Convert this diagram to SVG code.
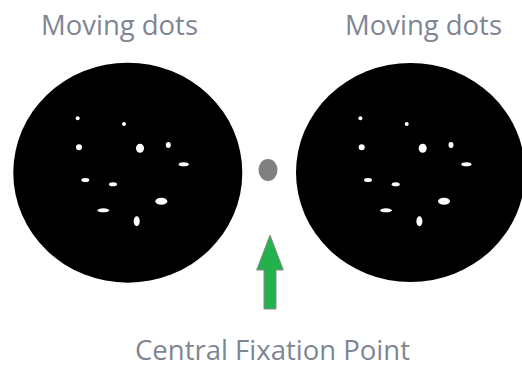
<svg xmlns="http://www.w3.org/2000/svg" xmlns:xlink="http://www.w3.org/1999/xlink" width="522" height="367" viewBox="0 0 522 367">
  <style>
    .label { font-family: "Open Sans", "Noto Sans", "Liberation Sans", sans-serif; font-size: 28px; fill: #7e8692; }
    .disk { fill: #000000; }
    .dot { fill: #ffffff; }
  </style>
  <defs>
    <g id="dots">
      <ellipse class="dot" cx="77.7" cy="118.3" rx="2" ry="2"/>
      <ellipse class="dot" cx="124" cy="124" rx="2" ry="2"/>
      <ellipse class="dot" cx="79" cy="147.3" rx="3" ry="3"/>
      <ellipse class="dot" cx="140" cy="148.3" rx="4" ry="4.5"/>
      <ellipse class="dot" cx="168.3" cy="145" rx="2.5" ry="3"/>
      <ellipse class="dot" cx="183.7" cy="164.3" rx="5" ry="2"/>
      <ellipse class="dot" cx="85.3" cy="180" rx="4" ry="2"/>
      <ellipse class="dot" cx="113" cy="184.3" rx="4" ry="2"/>
      <ellipse class="dot" cx="161.3" cy="201.3" rx="6" ry="3.5"/>
      <ellipse class="dot" cx="103.3" cy="210.3" rx="6" ry="2"/>
      <ellipse class="dot" cx="136.7" cy="221.3" rx="3" ry="5"/>
    </g>
  </defs>

  <g id="label-left">
    <text class="label" x="41" y="35" textLength="157" lengthAdjust="spacingAndGlyphs">Moving dots</text>
  </g>
  <g id="label-right">
    <text class="label" x="345" y="35" textLength="157" lengthAdjust="spacingAndGlyphs">Moving dots</text>
  </g>

  <g id="left-disk">
    <ellipse class="disk" cx="127.8" cy="172.7" rx="114.5" ry="110"/>
    <use xlink:href="#dots" href="#dots"/>
  </g>

  <g id="right-disk">
    <ellipse class="disk" cx="410.5" cy="172.5" rx="114.5" ry="109.5"/>
    <use xlink:href="#dots" href="#dots" transform="translate(282.7,0)"/>
  </g>

  <g id="fixation-point">
    <ellipse cx="268" cy="170" rx="9.5" ry="11" fill="#808080"/>
  </g>

  <g id="connectors">
    <polygon points="270,235 283.3,270 276,270 276,309 264,309 264,270 256.7,270" fill="#22b14c" stroke="#8a8a8a" stroke-width="1"/>
  </g>

  <g id="label-center">
    <text class="label" x="135" y="360" textLength="275" lengthAdjust="spacingAndGlyphs">Central Fixation Point</text>
  </g>
</svg>
